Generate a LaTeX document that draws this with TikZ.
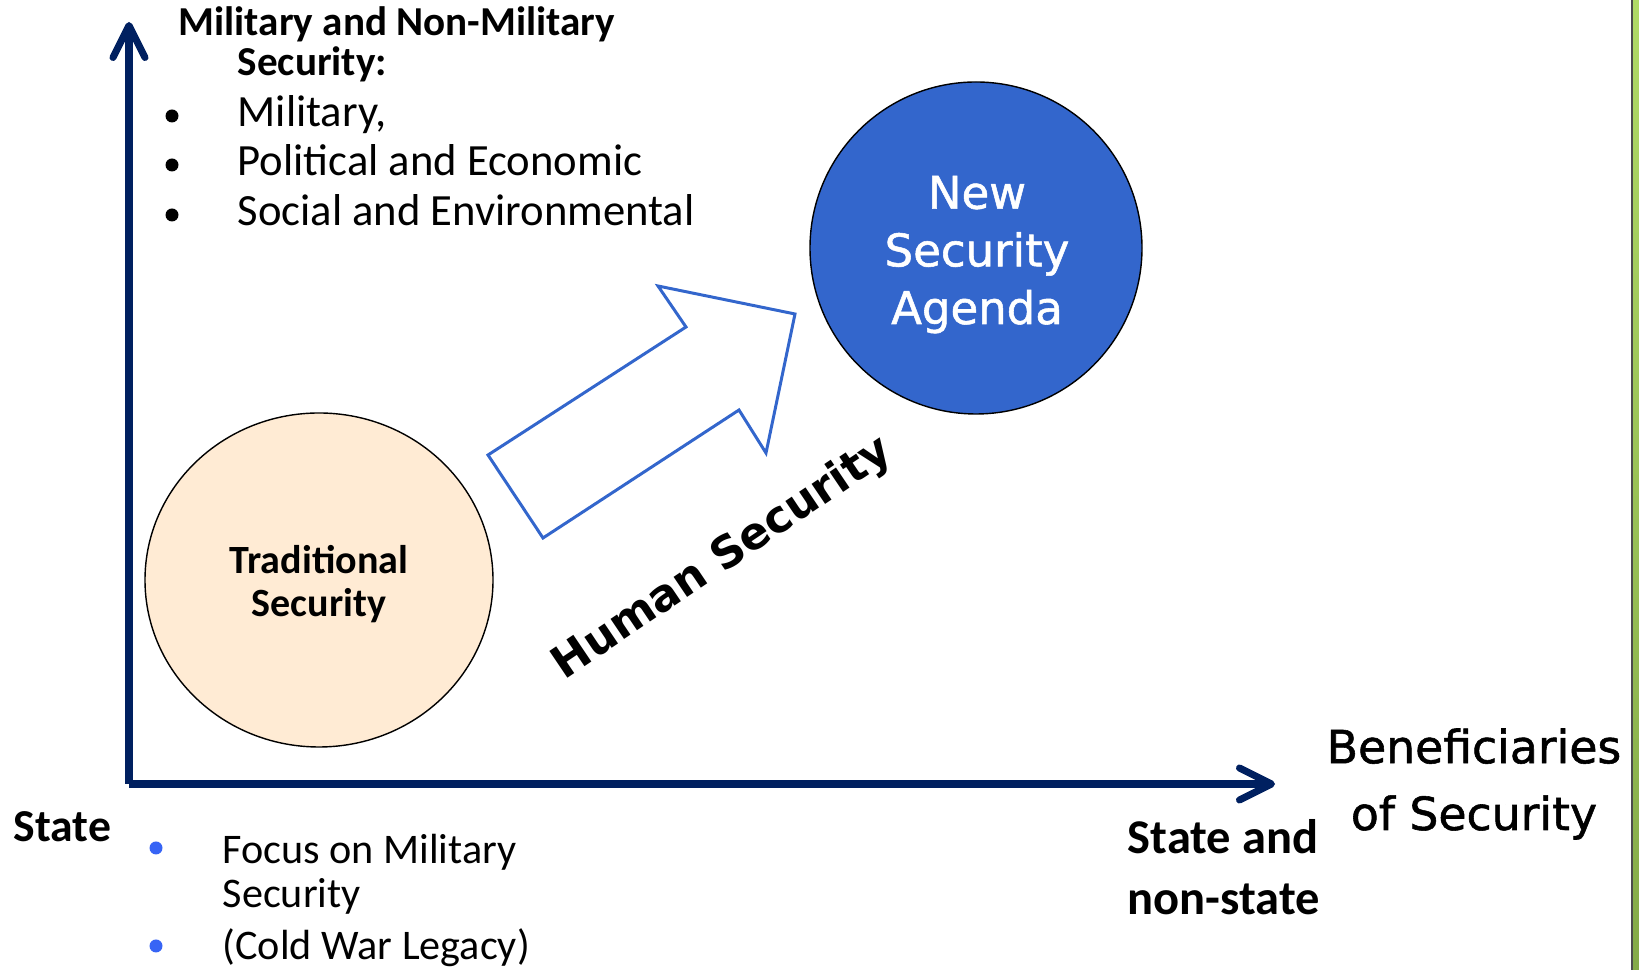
\documentclass[tikz,border=0pt]{standalone}
\usepackage{fontspec}
\setmainfont{Carlito}
\newfontfamily\dejavu{DejaVu Sans}
\newfontfamily\dejavuheavy[FakeBold=1.2]{DejaVu Sans}
\usetikzlibrary{arrows.meta,shapes.geometric}
\definecolor{axisnavy}{RGB}{0,32,96}
\definecolor{agendablue}{RGB}{51,102,204}
\definecolor{tradfill}{RGB}{255,235,212}
\definecolor{dotblue}{RGB}{55,100,245}
\definecolor{barlight}{RGB}{176,218,102}
\definecolor{bardark}{RGB}{132,170,72}

\begin{document}
\begin{tikzpicture}[inner sep=0pt,
        axis/.style={line width=2pt, draw=axisnavy, -{Straight Barb[length=3.2mm,width=3.2mm,round]}},
        txt/.style={anchor=base west, align=left},
        dot/.style={circle, fill=#1, minimum size=1.3mm},
        dot/.default=black]
    \useasboundingbox (0,0) rectangle (16.39,9.70);
    \shade[top color=barlight, bottom color=bardark] (16.32,0) rectangle (16.39,9.70);
    \draw[black!70, line width=0.6pt] (16.32,0) -- (16.32,9.70);

    \coordinate (O) at (1.29,1.86);
    \coordinate (ytip) at (1.29,9.48);
    \coordinate (xtip) at (12.75,1.86);
    \draw[axis] (O) -- (ytip);
    \draw[axis] (O) -- (xtip);

    \node[ellipse, draw, line width=0.4pt, fill=tradfill, minimum width=3.48cm, minimum height=3.34cm] (trad) at (3.19,3.90) {};
    \node[anchor=base, align=center, font=\bfseries\fontsize{11.4}{12.5}\selectfont] (tradtext) at (3.19,3.53) {Traditional\\Security};
    \node[circle, draw, line width=0.4pt, fill=agendablue, minimum size=3.32cm] (agenda) at (9.76,7.22) {};
    \node[anchor=base, align=center, text=white, font=\dejavuheavy\fontsize{12.8}{16.4}\selectfont] (agendatext) at (9.77,6.46)
        {New\\Security\\Agenda};

    \draw[agendablue, line width=0.85pt] (4.88,5.15) -- (6.86,6.43) -- (6.58,6.84) -- (7.95,6.56)
        -- (7.66,5.17) -- (7.39,5.60) -- (5.43,4.32) -- cycle;
    \node[rotate=34, font=\dejavu\bfseries\fontsize{12.6}{15}\selectfont] (human) at (7.23,4.11) {Human Security};

    \node[txt, font=\bfseries\fontsize{11.7}{11.4}\selectfont] (ytitle) at (1.78,8.94)
        {Military and Non-Military\\\hspace*{5.9mm}Security:};
    \foreach \y/\t [count=\i] in {8.43/{Military,}, 7.94/{Political and Economic}, 7.44/{Social and Environmental}} {
        \node[dot] (topdot\i) at (1.72,\y+0.11) {};
        \node[txt, font=\fontsize{12.7}{15}\selectfont] (topitem\i) at (2.37,\y) {\t};
    }

    \node[txt, font=\bfseries\fontsize{13}{15}\selectfont] (xstart) at (0.13,1.28) {State};
    \node[dot=dotblue] (lowdot1) at (1.56,1.22) {};
    \node[dot=dotblue] (lowdot2) at (1.56,0.24) {};
    \node[txt, font=\fontsize{12}{12.8}\selectfont] (lowitem1) at (2.22,0.62) {Focus on Military\\Security};
    \node[txt, font=\fontsize{12}{12.8}\selectfont] (lowitem2) at (2.22,0.10) {(Cold War Legacy)};

    \node[txt, font=\bfseries\fontsize{13.8}{17.6}\selectfont] (xend) at (11.27,0.55) {State and\\non-state};
    \node[anchor=base, align=center, font=\dejavuheavy\fontsize{13}{19}\selectfont] (xtitle) at (14.74,1.40)
        {Beneficiaries\\of Security};
\end{tikzpicture}
\end{document}
